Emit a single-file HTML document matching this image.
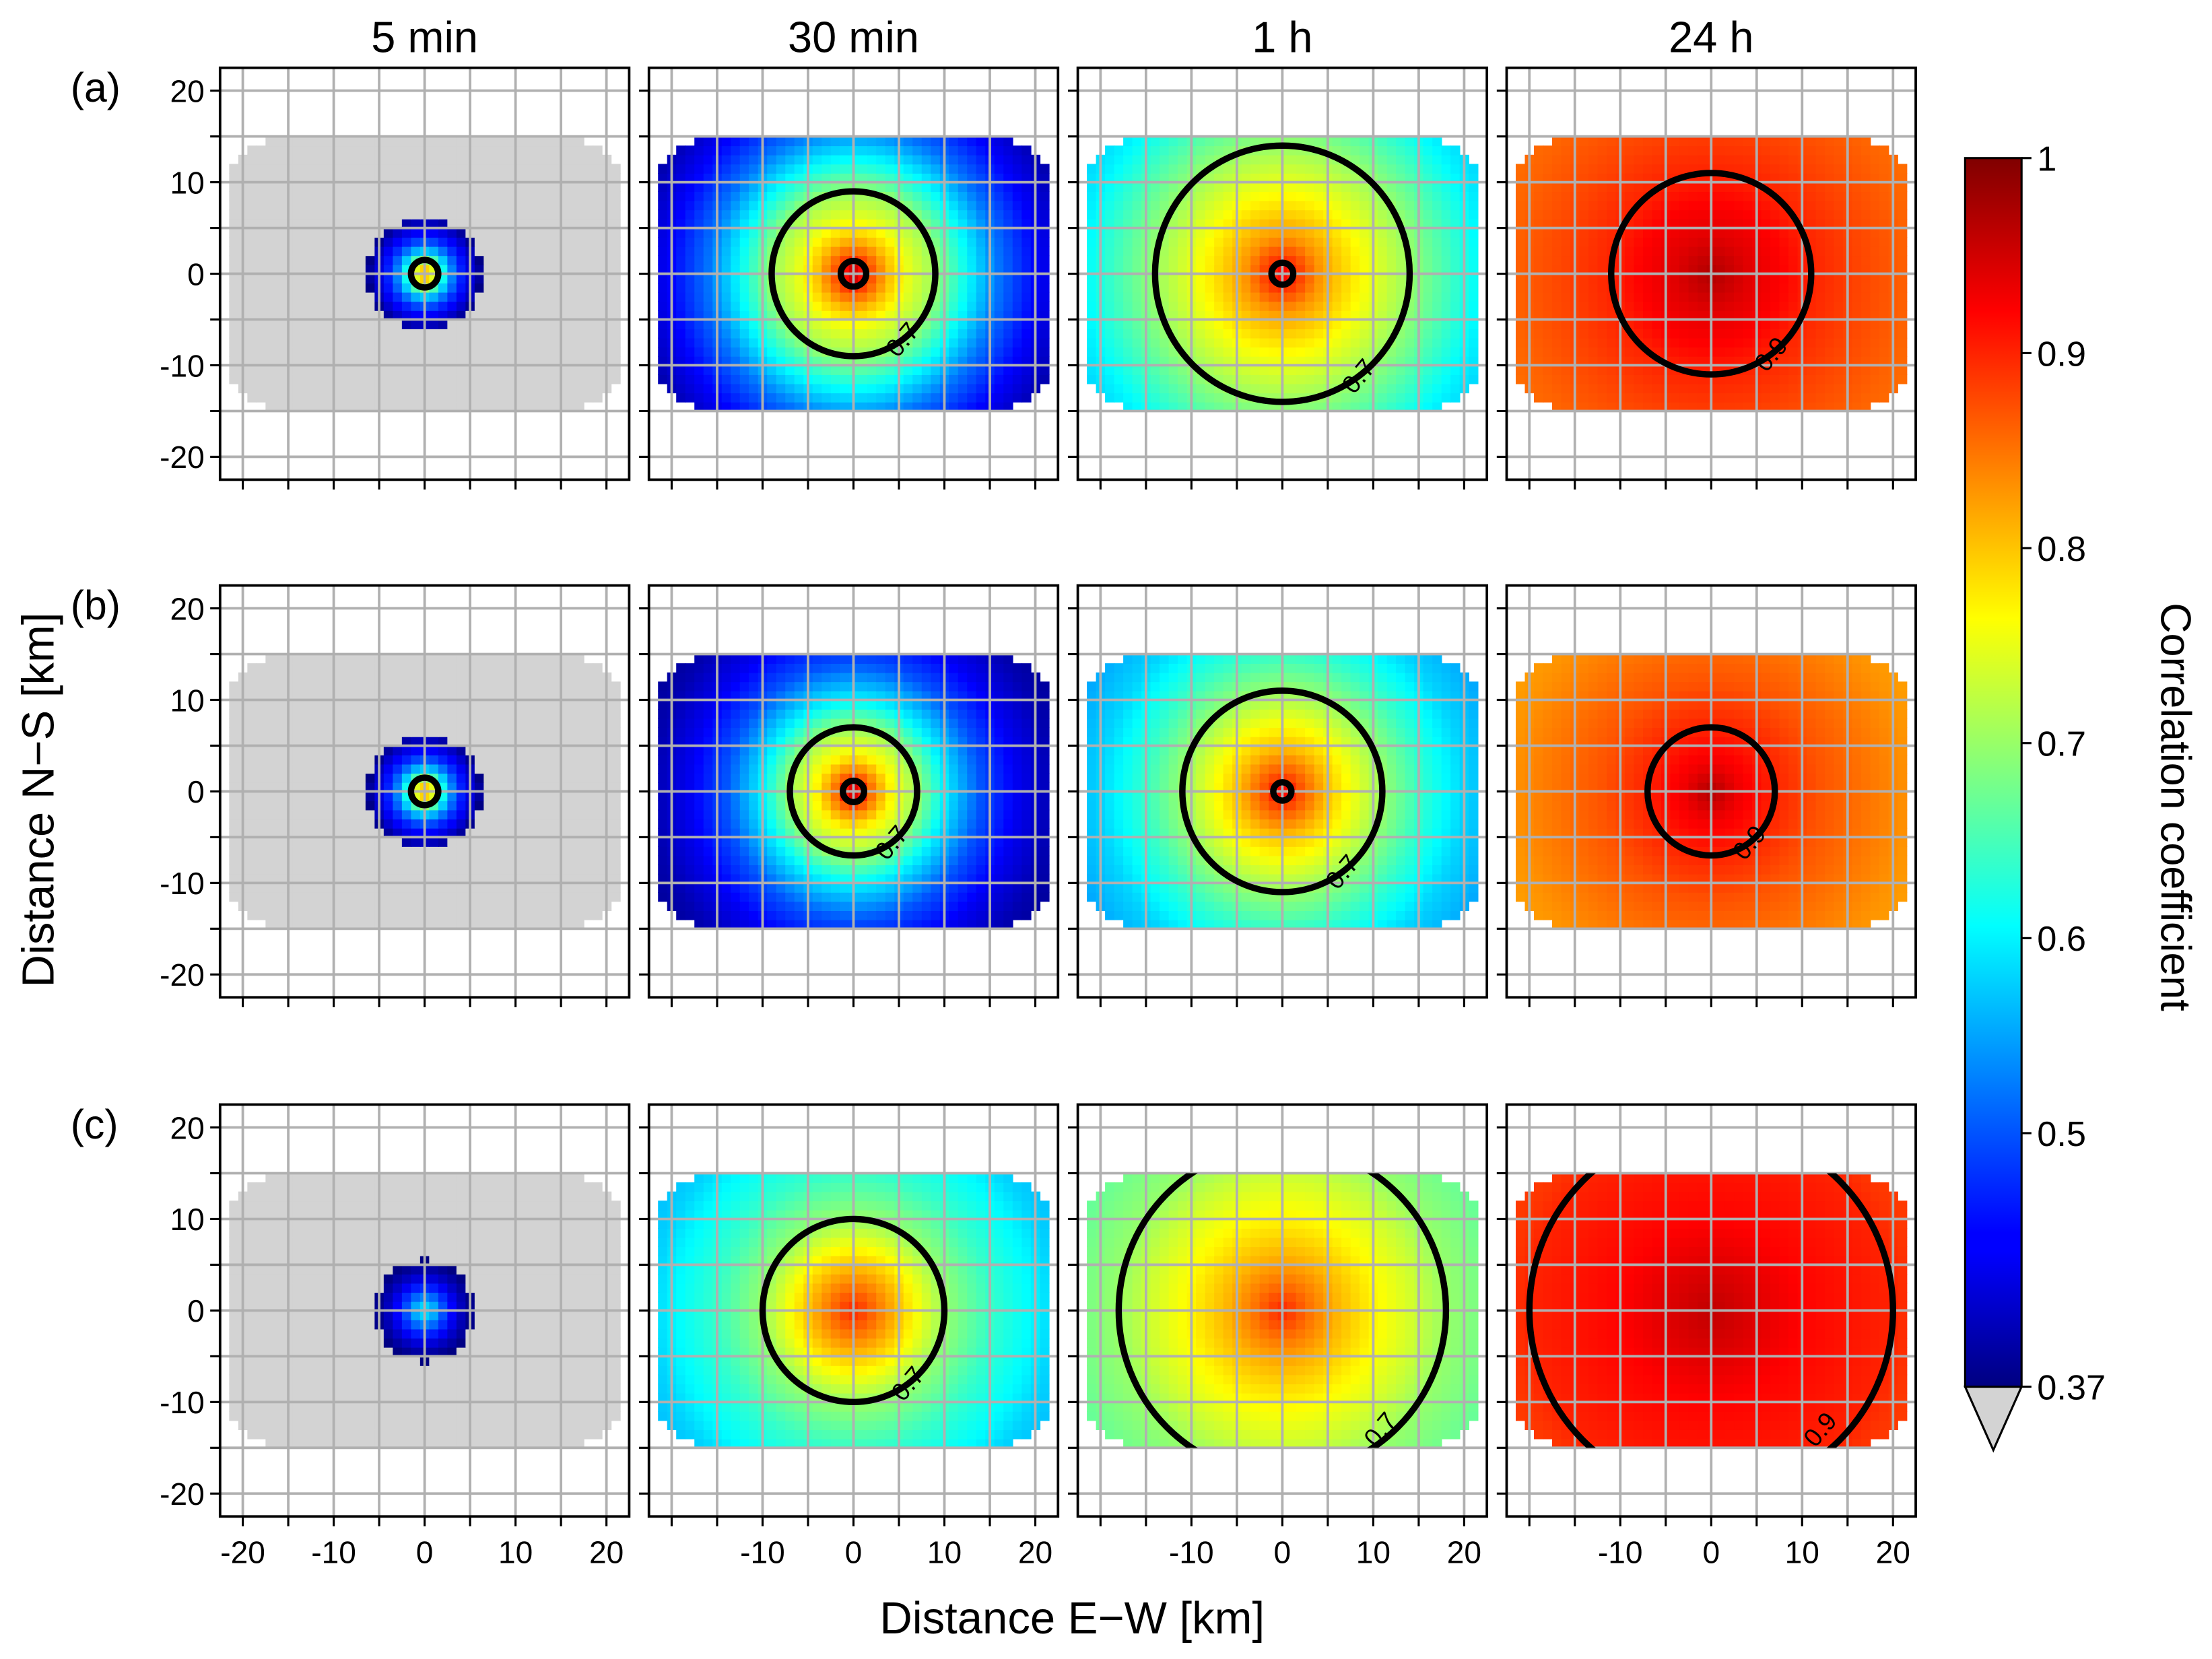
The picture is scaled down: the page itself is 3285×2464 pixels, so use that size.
<!DOCTYPE html>
<html><head><meta charset="utf-8">
<style>
html,body{margin:0;padding:0;background:#fff;}
svg{display:block;}
text{font-family:"Liberation Sans","DejaVu Sans",sans-serif;fill:#000;}
</style></head>
<body>
<svg id="fig" width="3285" height="2464" viewBox="0 0 1568 1176" xmlns="http://www.w3.org/2000/svg">
<defs>
<linearGradient id="jetgrad" x1="0" y1="1" x2="0" y2="0">
<stop offset="0" stop-color="#000080"/><stop offset="0.11" stop-color="#0000ff"/>
<stop offset="0.125" stop-color="#0000ff"/><stop offset="0.375" stop-color="#00ffff"/>
<stop offset="0.5" stop-color="#80ff80"/><stop offset="0.625" stop-color="#ffff00"/>
<stop offset="0.875" stop-color="#ff0000"/><stop offset="1" stop-color="#800000"/>
</linearGradient>
</defs>
</svg>
<script>
// ---- data ----
const colTitles = ["5 min","30 min","1 h","24 h"];
const rowLabels = ["(a)","(b)","(c)"];
const xTickLabels = [-20,-10,0,10,20];
const yTickLabels = [20,10,0,-10,-20];
const cbTicks = [1,0.9,0.8,0.7,0.6,0.5,0.37];
const vmin = 0.37, vmax = 1;
// radial profiles: distance (km) -> correlation, per panel
const profR = [
 [0,1,1.5,2,3,4,5,6,7],
 [0,2,4,6,9,12,16,20,24],
 [0,2,4,6,9,14,18,22,26],
 [0,4,8,11,16,22,26],
 [0,1,1.5,2,3,4,5,6,7],
 [0,2,4,7,10,14,18,22,26],
 [0,2,5,8,11,15,20,26],
 [0,3,7,12,17,22,26],
 [0,1,2,3,4,5,6,7],
 [0,2,5,10,15,20,22,26],
 [0,3,6,10,15,18,22,26],
 [0,5,10,15,20,22,26]
];
const profV = [
 [0.82,0.76,0.7,0.62,0.53,0.47,0.43,0.39,0.3],
 [0.97,0.87,0.8,0.75,0.7,0.62,0.52,0.45,0.4],
 [0.93,0.88,0.83,0.8,0.76,0.7,0.65,0.6,0.57],
 [0.97,0.94,0.92,0.9,0.88,0.86,0.85],
 [0.82,0.76,0.7,0.62,0.53,0.47,0.43,0.39,0.3],
 [0.97,0.85,0.77,0.7,0.6,0.5,0.44,0.4,0.38],
 [0.93,0.87,0.8,0.75,0.7,0.64,0.58,0.54],
 [0.97,0.93,0.9,0.87,0.85,0.83,0.82],
 [0.6,0.56,0.5,0.45,0.41,0.38,0.36,0.3],
 [0.9,0.86,0.8,0.7,0.64,0.6,0.58,0.56],
 [0.9,0.85,0.81,0.77,0.73,0.7,0.68,0.66],
 [0.96,0.94,0.92,0.91,0.9,0.89,0.88]
];
const contourLevels = [[0.7],[0.9,0.7],[0.9,0.7],[0.9],[0.7],[0.9,0.7],[0.9,0.7],[0.9],[],[0.7],[0.9,0.7],[0.9]];

// ---- layout ----
const NS="http://www.w3.org/2000/svg";
const svg=document.getElementById('fig');
const defs=svg.querySelector('defs');
const colX=[156,460,764,1068], rowY=[48,415,783], PW=290, PH=292, R=22.5;
function el(t,a,p){const e=document.createElementNS(NS,t);for(const k in a)e.setAttribute(k,a[k]);(p||svg).appendChild(e);return e;}
function jet(v){let t=(v-vmin)/(vmax-vmin);t=Math.max(0,Math.min(1,t));
 const c=x=>Math.round(255*Math.max(0,Math.min(1,1.5-Math.abs(x))));
 return `rgb(${c(4*t-3)},${c(4*t-2)},${c(4*t-1)})`;}
function prof(i,r){const a=profR[i],b=profV[i];if(r<=a[0])return b[0];
 for(let k=1;k<a.length;k++){if(r<=a[k]){const f=(r-a[k-1])/(a[k]-a[k-1]);return b[k-1]+f*(b[k]-b[k-1]);}}return b[b.length-1];}
function radiusAt(i,lv){const a=profR[i],b=profV[i];
 for(let k=1;k<a.length;k++){if((b[k-1]-lv)*(b[k]-lv)<=0&&b[k-1]!==b[k]){return a[k-1]+(lv-b[k-1])/(b[k]-b[k-1])*(a[k]-a[k-1]);}}return null;}
function inMask(x,y){return Math.pow(Math.abs(x)/22,6)+Math.pow(Math.abs(y)/15.2,6)<=1;}

for(let r=0;r<3;r++)for(let c=0;c<4;c++){
 const i=r*4+c, x0=colX[c], y0=rowY[r];
 const sx=v=>x0+(v+R)/(2*R)*PW, sy=v=>y0+(R-v)/(2*R)*PH;
 const g=el('g',{});
 
 
 const cp=el('clipPath',{id:'clip'+i},defs);
 el('rect',{x:sx(-21.5),y:sy(15),width:sx(21.5)-sx(-21.5),height:sy(-15)-sy(15),rx:30,ry:25},cp);
 const cw=PW/45+0.4, ch=PH/45+0.4;
 for(let yy=-15;yy<=14;yy++)for(let xx=-21;xx<=21;xx++){
  if(!inMask(xx,yy+0.5))continue;
  const v=prof(i,Math.hypot(xx,yy+0.5));
  const cell=el('rect',{x:sx(xx-0.5),y:sy(yy+1),width:cw,height:ch,fill:v<vmin?'#d3d3d3':jet(v)},g);
  
  
 }
 // grid
 for(let k=-20;k<=20;k+=5){
  el('line',{x1:sx(k),x2:sx(k),y1:y0,y2:y0+PH,stroke:'#b0b0b0','stroke-width':1.8},g);
  el('line',{y1:sy(k),y2:sy(k),x1:x0,x2:x0+PW,stroke:'#b0b0b0','stroke-width':1.8},g);
  el('line',{x1:sx(k),x2:sx(k),y1:y0+PH,y2:y0+PH+7,stroke:'#000','stroke-width':1.5},g);
  el('line',{y1:sy(k),y2:sy(k),x1:x0,x2:x0-7,stroke:'#000','stroke-width':1.5},g);
 }
 // contours
 const cg=el('g',{'clip-path':`url(#clip${i})`},g);
 contourLevels[i].forEach(lv=>{const rr=radiusAt(i,lv);if(rr===null)return;
  const ce=el('ellipse',{cx:sx(0),cy:sy(0),rx:rr*PW/45,ry:rr*PH/45,fill:'none',stroke:'#000','stroke-width':4.5},cg);
  
  
  if(rr>3){const lx=sx(rr*0.6),ly=sy(-Math.min(rr*0.8,13));
   const lt=el('text',{x:lx,y:ly+6,'font-size':18,'text-anchor':'middle',transform:`rotate(-50 ${lx} ${ly})`},g);
   lt.textContent=lv;
   
   }
 });
 el('rect',{x:x0,y:y0,width:PW,height:PH,fill:'none',stroke:'#000','stroke-width':1.8},g);
 if(c===0){yTickLabels.forEach(t=>{const tt=el('text',{x:x0-11,y:sy(t)+8,'font-size':22,'text-anchor':'end'},g);tt.textContent=t;
  
  });}
 if(r===2){xTickLabels.forEach(t=>{if(c>0&&t===-20)return;const tt=el('text',{x:sx(t),y:y0+PH+33,'font-size':22,'text-anchor':'middle'},g);tt.textContent=t;
  
  });}
 if(r===0){const tt=el('text',{x:x0+PW/2,y:37,'font-size':31,'text-anchor':'middle'},g);tt.textContent=colTitles[c];
  
  }
 if(c===0){const tt=el('text',{x:50,y:y0+24,'font-size':29},g);tt.textContent=rowLabels[r];
  
  }
}
// axis labels
let t=el('text',{x:760,y:1158,'font-size':32,'text-anchor':'middle'});t.textContent='Distance E\u2212W [km]';


t=el('text',{x:0,y:0,'font-size':32,'text-anchor':'middle',transform:'translate(38 567) rotate(-90)'});t.textContent='Distance N\u2212S [km]';


// colorbar
const cbx=1393,cbw=40,cbTop=112,cbBot=983;
const cbs=v=>cbBot-(v-vmin)/(vmax-vmin)*(cbBot-cbTop);
const cb=el('g',{});


el('rect',{x:cbx,y:cbTop,width:cbw,height:cbBot-cbTop,fill:'url(#jetgrad)'},cb);
el('polygon',{points:`${cbx},${cbBot} ${cbx+cbw},${cbBot} ${cbx+cbw/2},1028`,fill:'#d3d3d3',stroke:'#000','stroke-width':1.5},cb);
el('rect',{x:cbx,y:cbTop,width:cbw,height:cbBot-cbTop,fill:'none',stroke:'#000','stroke-width':1.5},cb);
cbTicks.forEach(v=>{el('line',{x1:cbx+cbw,x2:cbx+cbw+7,y1:cbs(v),y2:cbs(v),stroke:'#000','stroke-width':1.5},cb);
 const tt=el('text',{x:cbx+cbw+11,y:cbs(v)+9,'font-size':25},cb);tt.textContent=v;
 
 });
t=el('text',{x:0,y:0,'font-size':30,'text-anchor':'middle',transform:'translate(1532 572) rotate(90)'});t.textContent='Correlation coefficient';


</script>
</body></html>
